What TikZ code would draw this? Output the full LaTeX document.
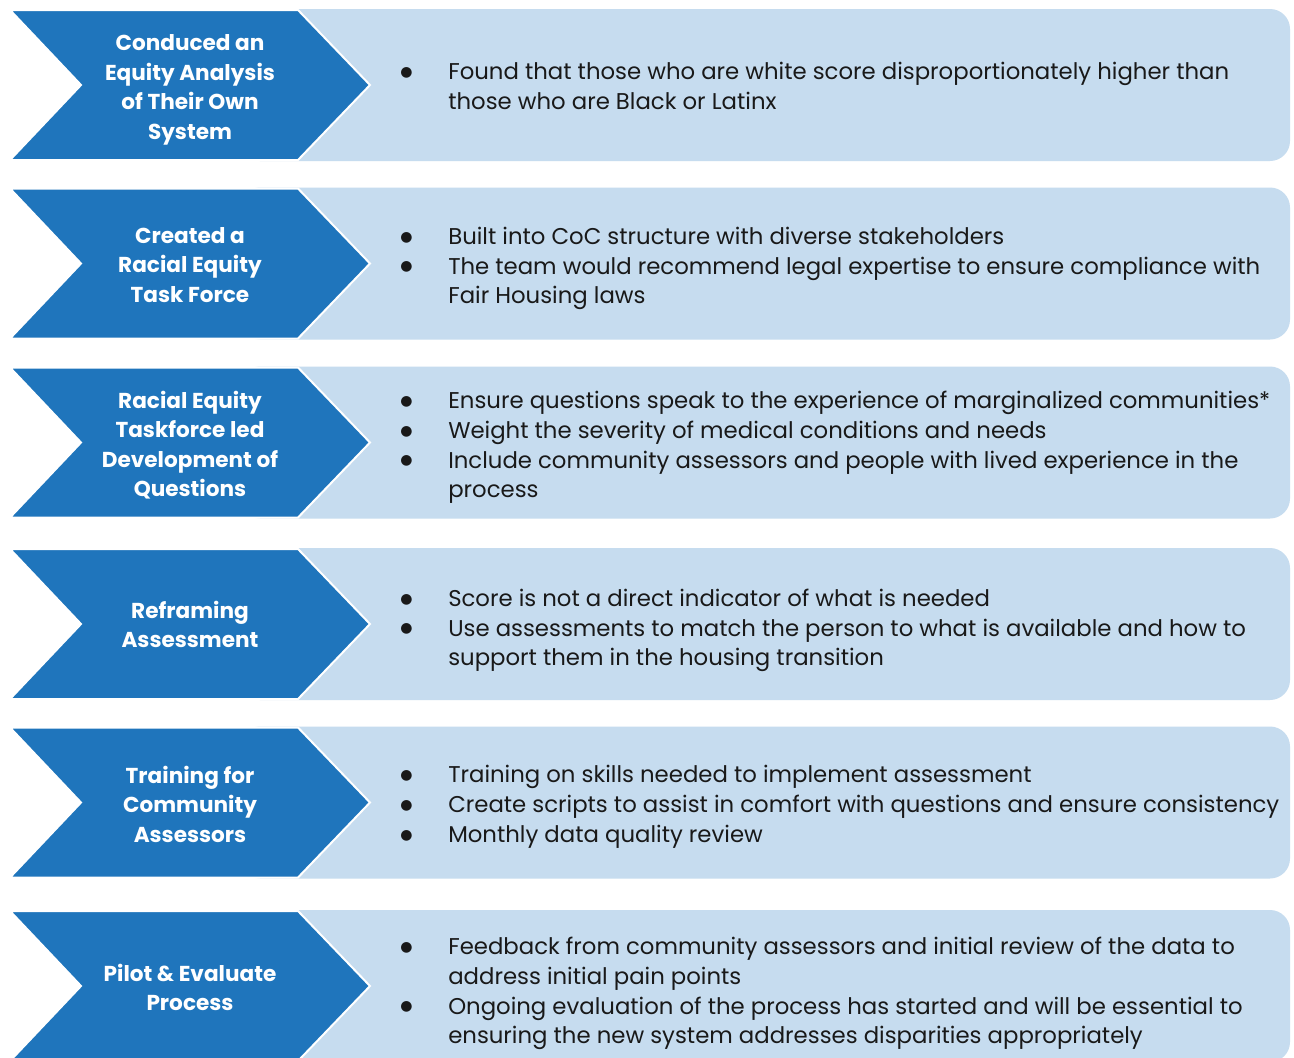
\documentclass[tikz,border=0pt]{standalone}
\usepackage{fontspec}
\setmainfont{Poppins}
\newfontfamily\dotfont{DejaVu Sans}
\definecolor{chevblue}{HTML}{1F75BC}
\definecolor{panelblue}{HTML}{C6DCEF}

% bullet with hanging indent for the item text
\newcommand\itm{\makebox[36pt][l]{\raisebox{2.4pt}{\dotfont\fontsize{10.5}{0}\selectfont ●}}}
\newcommand\ind{\hspace*{36pt}}

% one stage: panel, chevron, heading and bullet list
% #1 id, #2 row centre, #3 heading y, #4 list y, #5 heading, #6 list
\newcommand\stagerow[6]{%
  \fill[panel] (240,#2-76) rectangle (1290,#2+76);
  \path[chev] (10,#2-75) -- (298,#2-75) -- (370,#2) -- (298,#2+75) -- (10,#2+75) -- (81,#2) -- cycle;
  \node[head] (h#1) at (190,#3) {#5};
  \node[body] (b#1) at (400,#4) {#6};
}

\begin{document}
\begin{tikzpicture}[x=0.75pt,y=-0.75pt,
  panel/.style={fill=panelblue, rounded corners=15pt},
  chev/.style={fill=chevblue, draw=white, line width=1.5pt, line join=miter},
  head/.style={text=white, font=\bfseries\fontsize{16.2}{22.1}\selectfont, align=center, inner sep=0pt},
  body/.style={anchor=west, text=black!90, font=\fontsize{17.1}{22.3}\selectfont, align=left, inner sep=0pt},
]
\useasboundingbox (0,0) rectangle (1294,1057);
\fill[white] (0,0) rectangle (1294,1057);
\clip (0,0) rectangle (1294,1057);

\stagerow{1}{85}{90}{86}{Conduced an\\Equity Analysis\\of Their Own\\System}
  {\itm Found that those who are white score disproportionately higher than\\
   \ind those who are Black or Latinx}

\stagerow{2}{263.5}{265}{268.5}{Created a\\Racial Equity\\Task Force}
  {\itm Built into CoC structure with diverse stakeholders\\
   \itm The team would recommend legal expertise to ensure compliance with\\
   \ind Fair Housing laws}

\stagerow{3}{442.5}{445}{447.5}{Racial Equity\\Taskforce led\\Development of\\Questions}
  {\itm Ensure questions speak to the experience of marginalized communities*\\
   \itm Weight the severity of medical conditions and needs\\
   \itm Include community assessors and people with lived experience in the\\
   \ind process}

\stagerow{4}{624}{624.5}{630.5}{Reframing\\Assessment}
  {\itm Score is not a direct indicator of what is needed\\
   \itm Use assessments to match the person to what is available and how to\\
   \ind support them in the housing transition}

\stagerow{5}{802.5}{804}{807}{Training for\\Community\\Assessors}
  {\itm Training on skills needed to implement assessment\\
   \itm Create scripts to assist in comfort with questions and ensure consistency\\
   \itm Monthly data quality review}

\stagerow{6}{986}{987.5}{993.5}{Pilot \& Evaluate\\Process}
  {\itm Feedback from community assessors and initial review of the data to\\
   \ind address initial pain points\\
   \itm Ongoing evaluation of the process has started and will be essential to\\
   \ind ensuring the new system addresses disparities appropriately}
\end{tikzpicture}
\end{document}
